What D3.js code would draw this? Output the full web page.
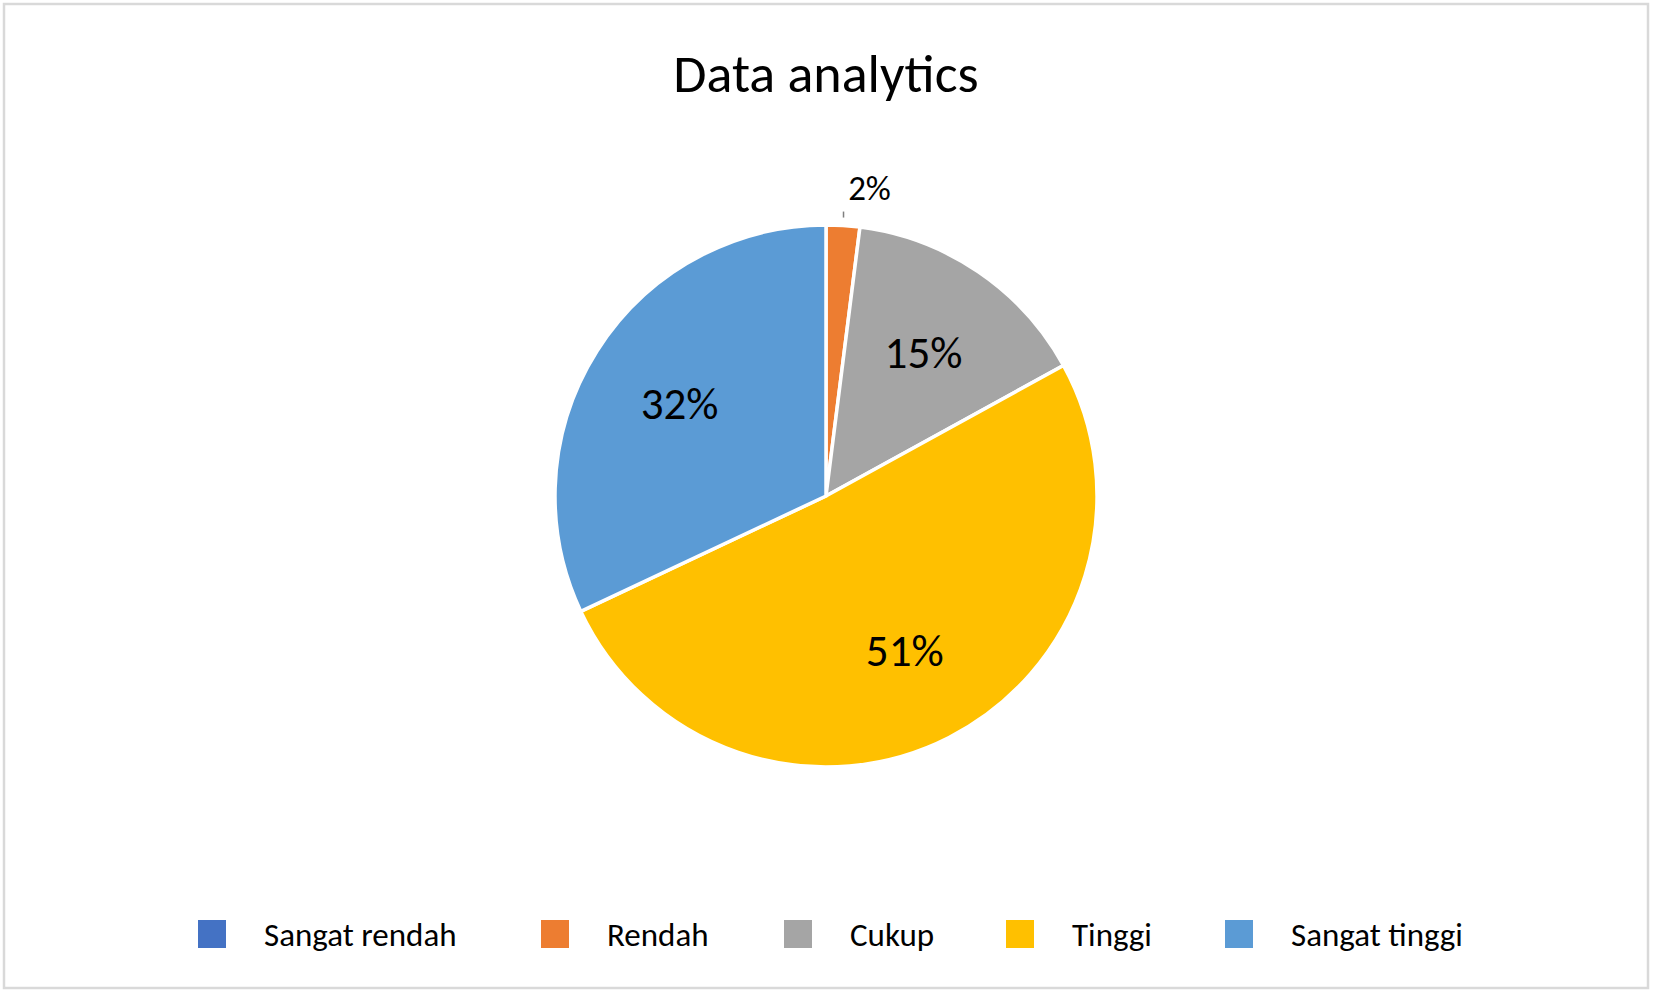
<!DOCTYPE html>
<html>
<head>
<meta charset="utf-8">
<title>Data analytics</title>
<script src="https://d3js.org/d3.v7.min.js"></script>
<style>
  body { margin: 0; background: #fff; }
  text { font-family: Carlito, Lato, "Open Sans", sans-serif; fill: #000; }
</style>
</head>
<body>
<div id="vis"></div>
<script>
const categories = ["Sangat rendah", "Rendah", "Cukup", "Tinggi", "Sangat tinggi"];
const values = [0, 2, 15, 51, 32];
const colors = ["#4472c4", "#ed7d31", "#a5a5a5", "#ffc000", "#5b9bd5"];
const legendX = [198, 541, 784, 1006, 1225];

const w = 1653, h = 993;
const cx = 826, cy = 496, R = 271;

const svg = d3.select("#vis").append("svg").attr("width", w).attr("height", h);

svg.append("rect").attr("x", 4).attr("y", 4).attr("width", w - 9).attr("height", h - 9)
   .attr("fill", "#fff").attr("stroke", "#d9d9d9").attr("stroke-width", 2.5);

svg.append("text").attr("x", cx).attr("y", 92).attr("text-anchor", "middle")
   .style("font-size", "54px").text("Data analytics");

const data = categories.map((c, i) => ({ cat: c, v: values[i], col: colors[i] }));
const pie = d3.pie().sort(null).value(d => d.v);
const arcs = pie(data);
const arc = d3.arc().innerRadius(0).outerRadius(R);
const labelArc = d3.arc().innerRadius(R * 0.64).outerRadius(R * 0.64);

const g = svg.append("g").attr("transform", `translate(${cx},${cy})`);

g.selectAll("path").data(arcs).enter().append("path")
  .attr("d", arc)
  .attr("fill", d => d.data.col)
  .attr("stroke", "#fff")
  .attr("stroke-width", 3.5);

arcs.forEach(a => {
  if (a.data.v === 0) return;
  const pct = a.data.v + "%";
  if (a.data.v < 5) {
    const mid = (a.startAngle + a.endAngle) / 2;
    const x = Math.sin(mid) * (R + 8), y = -Math.cos(mid) * (R + 8);
    g.append("line").attr("x1", x).attr("y1", y).attr("x2", x).attr("y2", y - 6)
     .attr("stroke", "#7f7f7f").attr("stroke-width", 1.5);
    g.append("text").attr("x", x + 26).attr("y", y - 18).attr("text-anchor", "middle")
     .style("font-size", "35px").text(pct);
  } else {
    const c = labelArc.centroid(a);
    g.append("text").attr("x", c[0]).attr("y", c[1]).attr("text-anchor", "middle")
     .attr("dy", "0.35em").style("font-size", "45px").text(pct);
  }
});

const leg = svg.selectAll("g.leg").data(data).enter().append("g").attr("class", "leg")
  .attr("transform", (d, i) => `translate(${legendX[i]},934)`);
leg.append("rect").attr("x", 0).attr("y", -14).attr("width", 28).attr("height", 28)
   .attr("fill", d => d.col);
leg.append("text").attr("x", 66).attr("y", 0).attr("dy", "0.35em")
   .style("font-size", "33px").text(d => d.cat);
</script>
</body>
</html>
